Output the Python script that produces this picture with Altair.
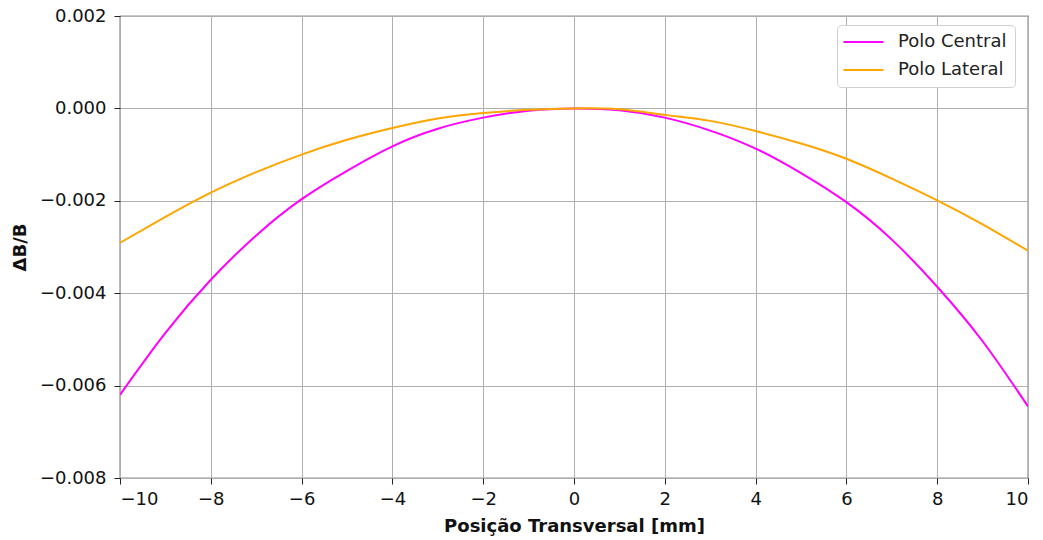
import altair as alt
import pandas as pd

x_mm = [-10, -9, -8, -7, -6, -5, -4, -3, -2, -1, 0, 1, 2, 3, 4, 5, 6, 7, 8, 9, 10]
polo_central = [-6.2e-3, -4.86e-3, -3.71e-3, -2.75e-3, -1.965e-3, -1.35e-3, -0.82e-3, -0.44e-3, -0.20e-3, -0.05e-3, 0.0,
                -0.04e-3, -0.20e-3, -0.48e-3, -0.87e-3, -1.40e-3, -2.03e-3, -2.84e-3, -3.86e-3, -5.04e-3, -6.45e-3]
polo_lateral = [-2.91e-3, -2.35e-3, -1.825e-3, -1.38e-3, -1.0e-3, -0.68e-3, -0.425e-3, -0.22e-3, -0.10e-3, -0.03e-3, 0.0,
                -0.02e-3, -0.14e-3, -0.27e-3, -0.49e-3, -0.76e-3, -1.09e-3, -1.52e-3, -1.99e-3, -2.51e-3, -3.08e-3]
series_names = ["Polo Central", "Polo Lateral"]
series_colors = ["#ff00ff", "#ffa500"]
x_ticks = [-10, -8, -6, -4, -2, 0, 2, 4, 6, 8, 10]
y_ticks = [-0.008, -0.006, -0.004, -0.002, 0.0, 0.002]

rows = []
for name, vals in zip(series_names, [polo_central, polo_lateral]):
    for xv, yv in zip(x_mm, vals):
        rows.append({"x": xv, "y": yv, "serie": name})
df = pd.DataFrame(rows)

font = "DejaVu Sans"
chart = alt.Chart(df).mark_line(strokeWidth=2, interpolate="natural", clip=True).encode(
    x=alt.X("x:Q", scale=alt.Scale(domain=[-10, 10], nice=False, zero=False),
            axis=alt.Axis(values=x_ticks, format="d", title="Posição Transversal [mm]")),
    y=alt.Y("y:Q", scale=alt.Scale(domain=[-0.008, 0.002], nice=False, zero=False),
            axis=alt.Axis(values=y_ticks, format=".3f", title="ΔB/B")),
    color=alt.Color("serie:N", sort=series_names,
                    scale=alt.Scale(domain=series_names, range=series_colors),
                    legend=alt.Legend(title=None, orient="none", legendX=717, legendY=9,
                                      fillColor="white", strokeColor="#d0d0d0", cornerRadius=4,
                                      padding=8, symbolType="M-1.4,0H3.93", symbolSize=225,
                                      symbolStrokeWidth=2, labelFontSize=18, labelFont=font,
                                      labelColor="#222222", rowPadding=10, labelOffset=35)),
).properties(
    width=908, height=462,
    autosize=alt.AutoSizeParams(type="none"),
    padding={"left": 120, "top": 16, "right": 15, "bottom": 62},
).configure_view(
    stroke="#222222", strokeWidth=1.2
).configure_axis(
    labelFont=font, titleFont=font, labelFontSize=18, titleFontSize=18,
    titleFontWeight="bold", labelColor="#111111", titleColor="#111111",
    grid=True, gridColor="#b0b0b0", gridWidth=1,
    tickColor="#222222", tickSize=6, domain=False,
).configure_axisY(
    titlePadding=10, labelPadding=8
).configure_axisX(
    titlePadding=9, labelPadding=6
)

chart.save("out.html", embed_options={"renderer": "svg", "actions": False})
